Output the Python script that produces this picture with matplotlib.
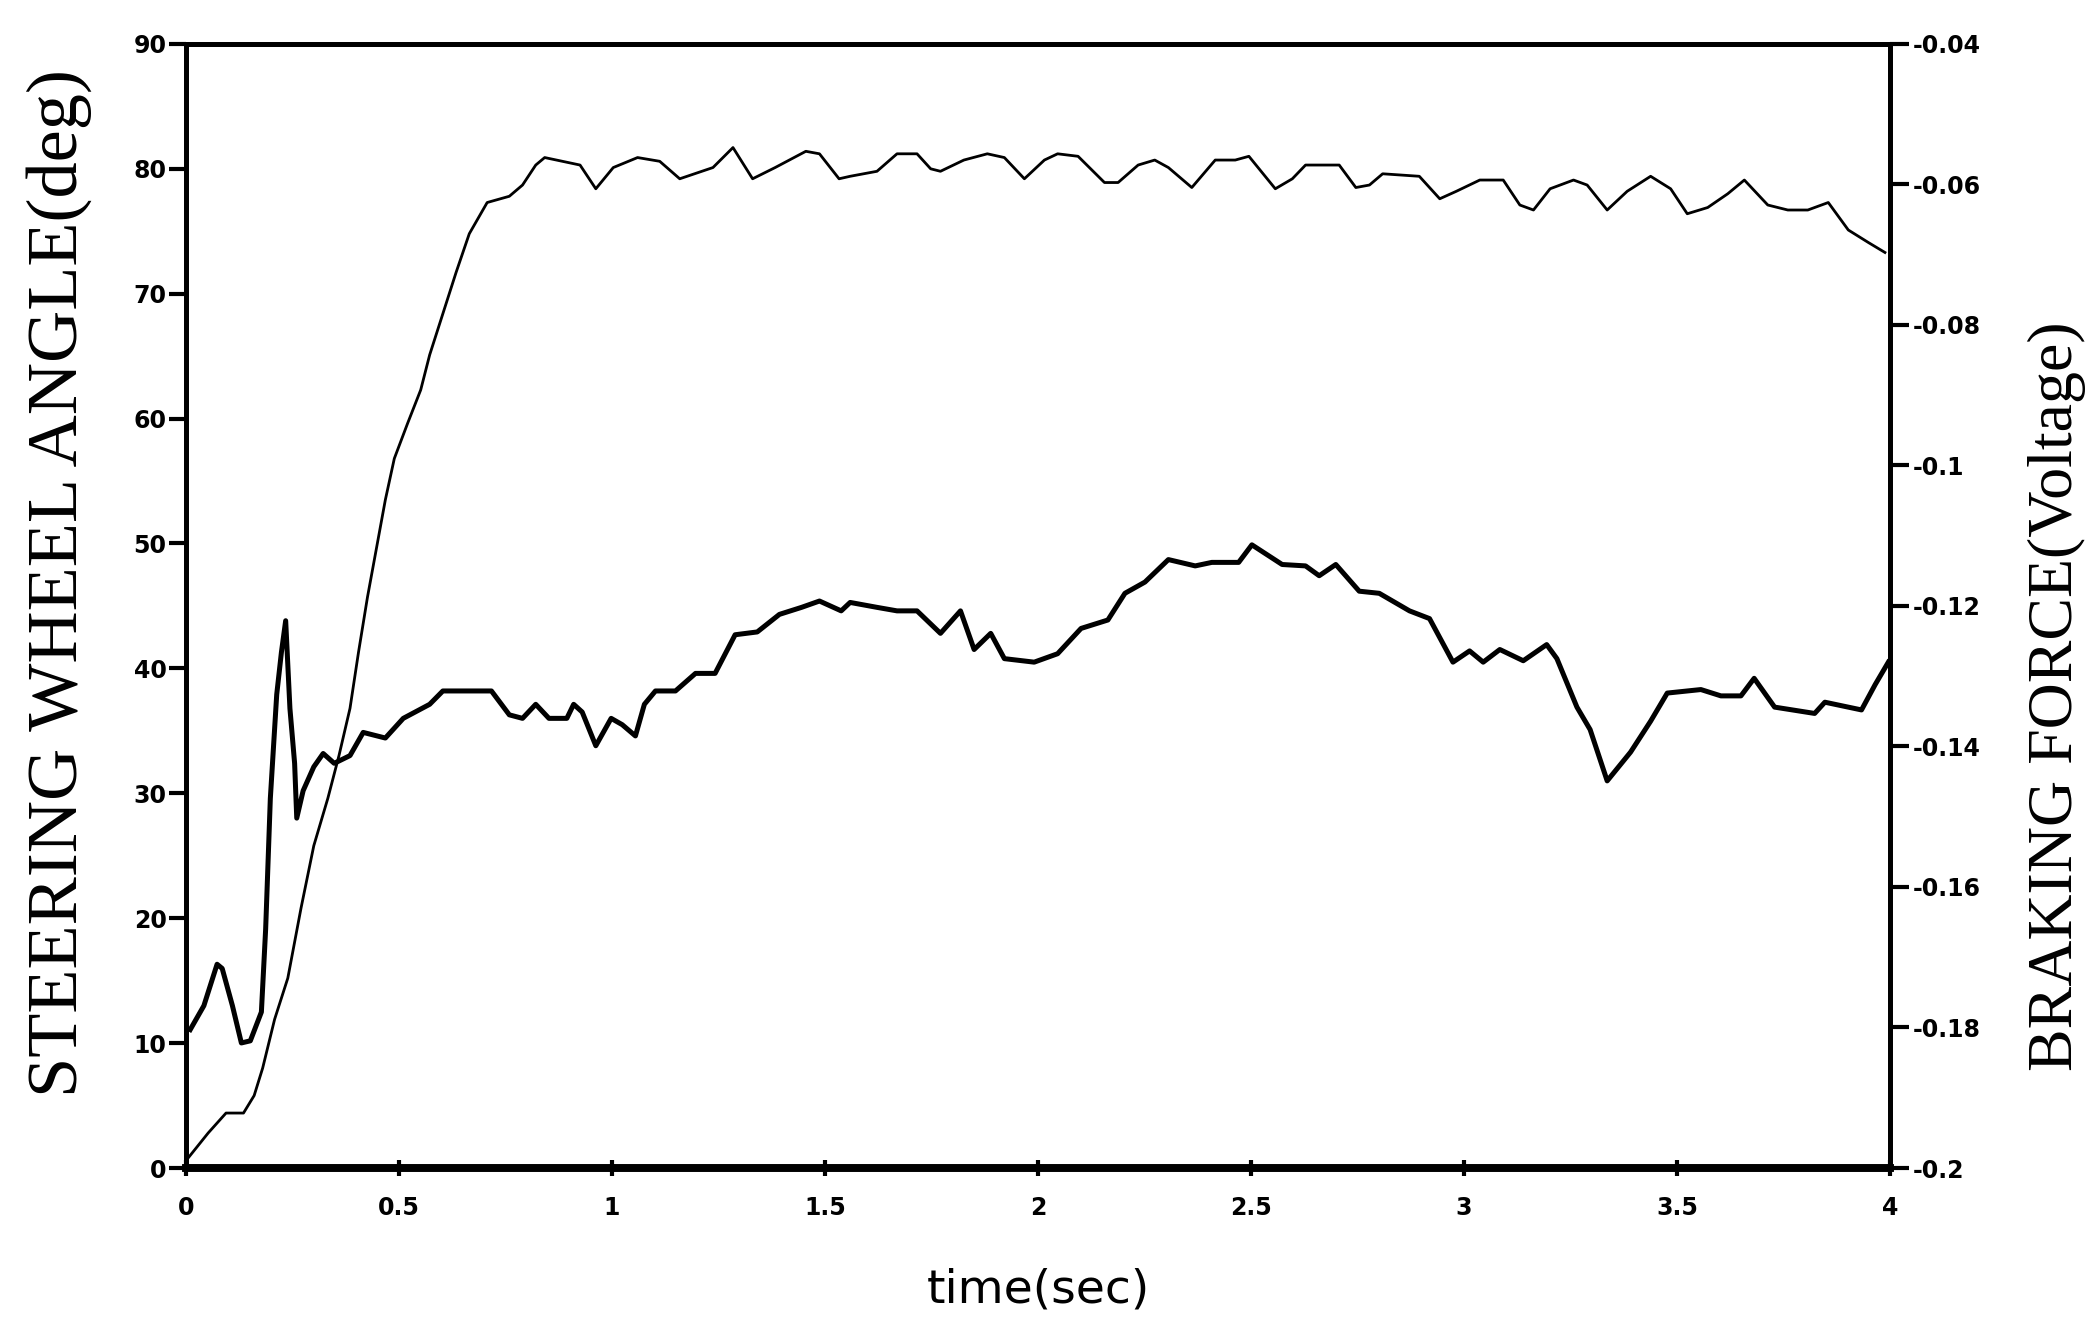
import matplotlib
matplotlib.use("Agg")
import matplotlib.pyplot as plt
import numpy as np

# Steering wheel angle (deg), thin line, left axis
steer_t = [0.005, 0.052, 0.094, 0.135, 0.16, 0.18, 0.208, 0.239, 0.27, 0.30, 0.333, 0.359,
           0.385, 0.405, 0.426, 0.447, 0.468, 0.489, 0.52, 0.551, 0.572, 0.603, 0.634, 0.665,
           0.707, 0.759, 0.79, 0.821, 0.842, 0.925, 0.962, 1.003, 1.06, 1.112, 1.159, 1.237,
           1.284, 1.33, 1.383, 1.455, 1.487, 1.533,
           1.559, 1.622, 1.669, 1.716, 1.748, 1.771, 1.826, 1.881, 1.921, 1.968, 2.015, 2.046,
           2.094, 2.156, 2.188, 2.235, 2.274, 2.306, 2.361, 2.416, 2.463, 2.495, 2.557, 2.597,
           2.628, 2.707, 2.746, 2.778, 2.809, 2.895, 2.943, 2.982, 3.037, 3.092, 3.131, 3.163,
           3.202, 3.257, 3.289, 3.336, 3.383, 3.438, 3.485, 3.524, 3.572, 3.619, 3.658, 3.713,
           3.76, 3.807, 3.855, 3.902, 3.949, 3.988]
steer_deg = [0.8, 2.8, 4.4, 4.4, 5.8, 8.0, 11.9, 15.2, 20.8, 25.8, 29.6, 33.0,
             36.8, 41.3, 45.7, 49.6, 53.5, 56.8, 59.6, 62.3, 65.1, 68.4, 71.7, 74.8,
             77.3, 77.8, 78.7, 80.3, 80.9, 80.3, 78.4, 80.1, 80.9, 80.6, 79.2, 80.1,
             81.7, 79.2, 80.1, 81.4, 81.2, 79.2,
             79.4, 79.8, 81.2, 81.2, 80.0, 79.8, 80.7, 81.2, 80.9, 79.2, 80.7, 81.2,
             81.0, 78.9, 78.9, 80.3, 80.7, 80.1, 78.5, 80.7, 80.7, 81.0, 78.4, 79.2,
             80.3, 80.3, 78.5, 78.7, 79.6, 79.4, 77.6, 78.2, 79.1, 79.1, 77.1, 76.7,
             78.4, 79.1, 78.7, 76.7, 78.2, 79.4, 78.4, 76.4, 76.9, 78.0, 79.1, 77.1,
             76.7, 76.7, 77.3, 75.1, 74.1, 73.3]

# Braking force (Voltage), thick line, right axis
brake_t = [0.01, 0.042, 0.073, 0.085, 0.109, 0.13, 0.151, 0.177, 0.187, 0.198, 0.213, 0.224,
           0.234, 0.244, 0.255, 0.26, 0.275, 0.30, 0.322, 0.348, 0.385, 0.416, 0.468, 0.51,
           0.572, 0.603, 0.717, 0.759, 0.79, 0.821, 0.852, 0.894, 0.91, 0.93, 0.962, 0.998,
           1.024, 1.055, 1.076, 1.102, 1.149, 1.196, 1.242, 1.289, 1.341, 1.393, 1.445, 1.487,
           1.538, 1.559, 1.622, 1.669, 1.716, 1.771, 1.818, 1.85, 1.889, 1.921, 1.991, 2.046,
           2.101, 2.164, 2.204, 2.251, 2.306, 2.369, 2.408, 2.471, 2.502, 2.573, 2.628, 2.66,
           2.699, 2.754, 2.801, 2.872, 2.919, 2.974, 3.013, 3.045, 3.084, 3.139, 3.194, 3.218,
           3.265, 3.296, 3.336, 3.391, 3.438, 3.477, 3.556, 3.603, 3.65, 3.681, 3.729, 3.823,
           3.847, 3.933, 3.965, 3.996]
brake_v = [-0.1803, -0.1769, -0.1710, -0.1716, -0.1769, -0.1822, -0.1819, -0.1778, -0.1660,
           -0.1474, -0.1326, -0.1266, -0.1221, -0.1346, -0.1424, -0.1502, -0.1463, -0.1429,
           -0.1410, -0.1424, -0.1413, -0.1380, -0.1388, -0.1360, -0.1340, -0.1321, -0.1321,
           -0.1355, -0.1360, -0.1340, -0.1360, -0.1360, -0.1340, -0.1351, -0.1399, -0.1360,
           -0.1369, -0.1385, -0.1340, -0.1321, -0.1321, -0.1296, -0.1296, -0.1241, -0.1237,
           -0.1212, -0.1202, -0.1193, -0.1207, -0.1195, -0.1202, -0.1207, -0.1207, -0.1239,
           -0.1207, -0.1262, -0.1239, -0.1275, -0.1280, -0.1268, -0.1232, -0.1220, -0.1182,
           -0.1166, -0.1134, -0.1143, -0.1138, -0.1138, -0.1113, -0.1141, -0.1143, -0.1157,
           -0.1141, -0.1179, -0.1182, -0.1207, -0.1218, -0.1280, -0.1264, -0.1280, -0.1262,
           -0.1278, -0.1255, -0.1275, -0.1344, -0.1376, -0.1449, -0.1408, -0.1364, -0.1324,
           -0.1319, -0.1328, -0.1328, -0.1303, -0.1344, -0.1353, -0.1337, -0.1348, -0.1312,
           -0.1280]

x_ticks = [0, 0.5, 1, 1.5, 2, 2.5, 3, 3.5, 4]
x_ticklabels = ["0", "0.5", "1", "1.5", "2", "2.5", "3", "3.5", "4"]
left_ticks = [0, 10, 20, 30, 40, 50, 60, 70, 80, 90]
right_ticks = [-0.2, -0.18, -0.16, -0.14, -0.12, -0.1, -0.08, -0.06, -0.04]
right_ticklabels = ["-0.2", "-0.18", "-0.16", "-0.14", "-0.12", "-0.1", "-0.08", "-0.06", "-0.04"]

fig = plt.figure(figsize=(20.85, 13.3), dpi=100)
ax = fig.add_axes([0.0892, 0.1218, 0.8173, 0.8452])
ax2 = ax.twinx()

ax.plot(steer_t, steer_deg, color="black", lw=2.0)
ax2.plot(brake_t, brake_v, color="black", lw=3.6)

ax.set_xlim(0, 4)
ax.set_ylim(0, 90)
ax2.set_ylim(-0.2, -0.04)

tickfont = dict(fontsize=17, fontweight="heavy", family="DejaVu Sans")
ax.set_xticks(x_ticks)
ax.set_xticklabels(x_ticklabels, **tickfont)
ax.set_yticks(left_ticks)
ax.set_yticklabels([str(v) for v in left_ticks], **tickfont)
ax2.set_yticks(right_ticks)
ax2.set_yticklabels(right_ticklabels, **tickfont)

ax.tick_params(axis="x", direction="inout", length=12, width=3, pad=14)
ax.tick_params(axis="y", direction="out", length=12, width=3, pad=2)
ax2.tick_params(axis="y", direction="out", length=14, width=3, pad=2)

for s in ax.spines.values():
    s.set_linewidth(3.5)
ax.spines["bottom"].set_linewidth(5.5)
for s in ax2.spines.values():
    s.set_linewidth(3.5)
ax2.spines["bottom"].set_linewidth(5.5)

ax.set_ylabel("STEERING WHEEL ANGLE(deg)", family="Liberation Serif", fontsize=52)
ax.yaxis.set_label_coords(-0.055, 0.52)
ax2.set_ylabel("BRAKING FORCE(Voltage)", family="Liberation Serif", fontsize=46)
ax2.yaxis.set_label_coords(1.081, 0.42)
ax.set_xlabel("time(sec)", family="DejaVu Sans", fontsize=34, labelpad=34)

fig.savefig("out.png", dpi=100)
